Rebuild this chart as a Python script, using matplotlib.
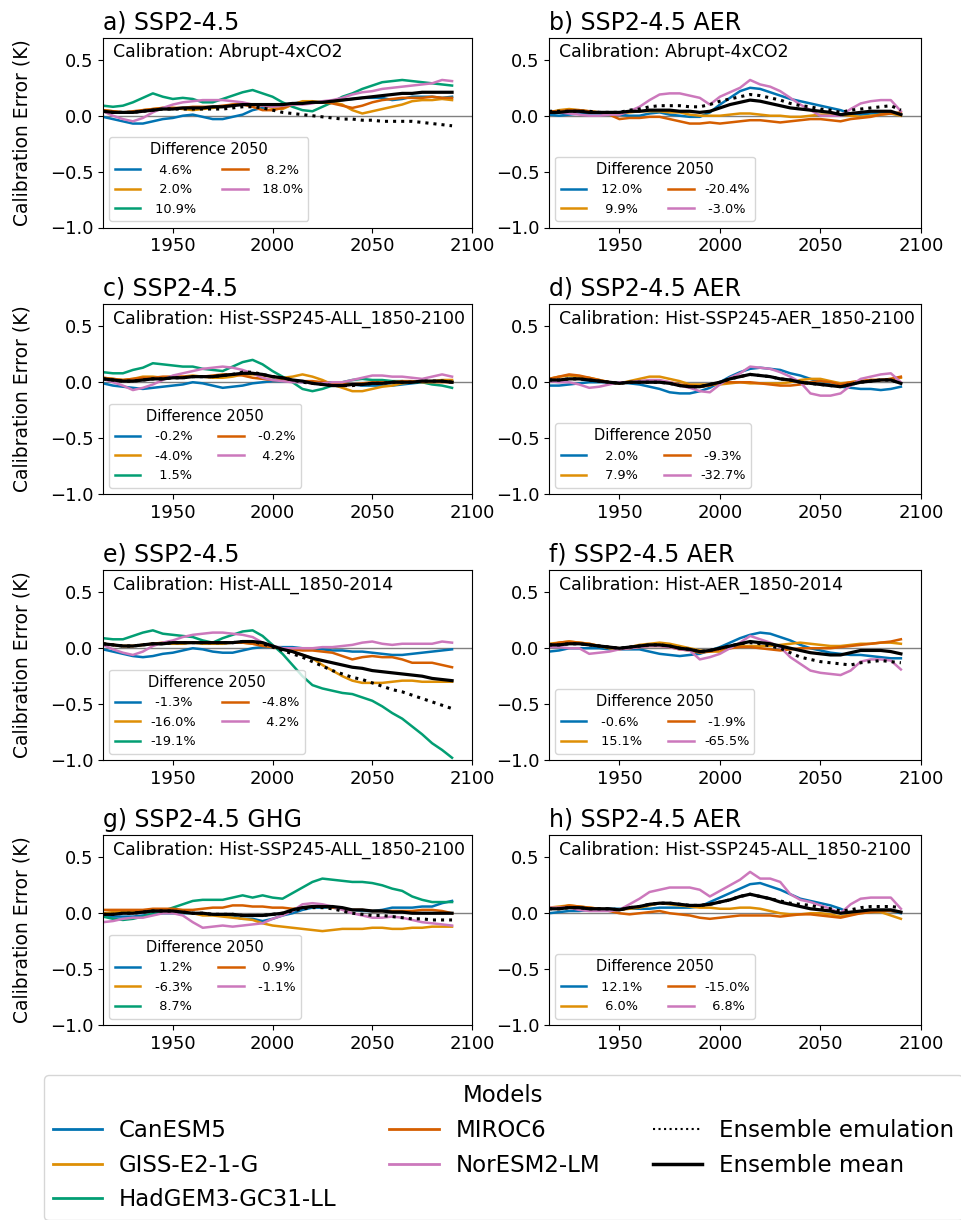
import numpy as np
import matplotlib
matplotlib.use("Agg")
import matplotlib.pyplot as plt
from matplotlib.lines import Line2D

# 5-year sampling of the running-mean calibration error (K)
years = np.arange(1915, 2091, 5)

models = ["CanESM5", "GISS-E2-1-G", "HadGEM3-GC31-LL", "MIROC6", "NorESM2-LM"]
model_colors = ["#0173b2", "#de8f05", "#029e73", "#d55e00", "#cc78bc"]

# ---------------- a) SSP2-4.5, calibration Abrupt-4xCO2 ----------------
a_canesm5 = [-0.01,-0.03,-0.05,-0.07,-0.07,-0.05,-0.03,-0.02,0.0,0.01,-0.01,-0.03,-0.03,-0.01,0.01,0.05,0.07,0.09,0.1,0.11,0.12,0.12,0.12,0.13,0.14,0.15,0.16,0.16,0.16,0.14,0.15,0.17,0.17,0.17,0.16,0.17]
a_giss = [0.05,0.04,0.03,0.03,0.05,0.06,0.07,0.07,0.06,0.05,0.06,0.07,0.08,0.1,0.11,0.1,0.09,0.07,0.06,0.1,0.13,0.13,0.12,0.12,0.1,0.05,0.02,0.04,0.06,0.08,0.1,0.13,0.14,0.14,0.15,0.14]
a_hadgem = [0.09,0.08,0.09,0.12,0.16,0.2,0.17,0.15,0.16,0.15,0.12,0.12,0.15,0.18,0.21,0.23,0.2,0.17,0.12,0.08,0.05,0.04,0.08,0.12,0.17,0.2,0.24,0.27,0.3,0.31,0.32,0.31,0.3,0.29,0.28,0.27]
a_miroc6 = [0.05,0.04,0.03,0.04,0.05,0.06,0.07,0.07,0.07,0.08,0.08,0.08,0.09,0.1,0.1,0.08,0.05,0.05,0.07,0.1,0.11,0.12,0.12,0.11,0.09,0.07,0.09,0.12,0.14,0.15,0.16,0.16,0.16,0.17,0.16,0.16]
a_noresm = [0.04,0.0,-0.03,-0.05,-0.02,0.03,0.07,0.1,0.12,0.13,0.14,0.14,0.14,0.13,0.12,0.1,0.09,0.08,0.09,0.1,0.1,0.11,0.13,0.14,0.16,0.19,0.21,0.22,0.24,0.25,0.26,0.27,0.28,0.29,0.32,0.31]
a_mean = [0.04,0.03,0.03,0.03,0.04,0.05,0.06,0.06,0.07,0.07,0.07,0.08,0.08,0.09,0.1,0.1,0.1,0.1,0.1,0.11,0.11,0.12,0.12,0.13,0.14,0.15,0.16,0.17,0.18,0.19,0.2,0.2,0.21,0.21,0.21,0.21]
a_emul = [0.04,0.03,0.03,0.03,0.04,0.05,0.06,0.06,0.06,0.06,0.06,0.06,0.06,0.07,0.08,0.08,0.07,0.05,0.03,0.02,0.01,0.0,-0.01,-0.02,-0.03,-0.03,-0.04,-0.04,-0.05,-0.05,-0.05,-0.05,-0.06,-0.07,-0.08,-0.09]
a_diff = [4.6, 2.0, 10.9, 8.2, 18.0]

# ---------------- b) SSP2-4.5 AER, calibration Abrupt-4xCO2 ----------------
b_canesm5 = [0.01,0.0,0.01,0.02,0.02,0.02,0.01,0.01,0.0,0.0,0.02,0.03,0.01,0.0,-0.01,-0.01,0.03,0.1,0.16,0.22,0.25,0.24,0.21,0.18,0.15,0.13,0.11,0.09,0.07,0.05,0.02,0.01,0.02,0.02,0.02,0.01]
b_giss = [0.03,0.05,0.06,0.05,0.04,0.03,0.02,0.02,0.03,0.04,0.04,0.04,0.03,0.03,0.01,0.0,0.0,0.0,0.01,0.02,0.02,0.01,0.0,0.0,-0.01,-0.01,0.0,0.01,0.01,0.01,0.0,-0.01,0.0,0.01,0.02,0.0]
b_miroc6 = [0.04,0.04,0.05,0.05,0.04,0.03,0.01,-0.03,-0.02,-0.02,-0.01,-0.01,-0.03,-0.05,-0.07,-0.07,-0.06,-0.07,-0.06,-0.05,-0.04,-0.04,-0.05,-0.06,-0.05,-0.04,-0.03,-0.03,-0.04,-0.05,-0.03,-0.02,-0.01,0.01,0.02,0.03]
b_noresm = [0.03,0.03,0.02,0.01,0.0,0.0,0.01,0.01,0.04,0.08,0.14,0.19,0.2,0.2,0.18,0.16,0.1,0.17,0.21,0.25,0.32,0.28,0.26,0.22,0.16,0.1,0.05,0.0,0.0,0.0,0.06,0.11,0.13,0.14,0.14,0.04]
b_mean = [0.03,0.03,0.04,0.04,0.03,0.03,0.03,0.03,0.04,0.04,0.05,0.05,0.05,0.04,0.04,0.03,0.04,0.07,0.1,0.12,0.14,0.13,0.11,0.09,0.07,0.06,0.05,0.04,0.03,0.01,0.02,0.03,0.04,0.04,0.04,0.01]
b_emul = [0.04,0.04,0.04,0.04,0.04,0.03,0.03,0.03,0.05,0.06,0.08,0.09,0.09,0.09,0.08,0.08,0.1,0.13,0.15,0.17,0.19,0.18,0.16,0.14,0.11,0.09,0.08,0.06,0.05,0.03,0.05,0.06,0.07,0.08,0.09,0.05]
b_diff = [12.0, 9.9, -20.4, -3.0]

# ---------------- c) SSP2-4.5, calibration Hist-SSP245-ALL ----------------
c_canesm5 = [-0.01,-0.03,-0.04,-0.05,-0.06,-0.05,-0.04,-0.03,-0.02,0.0,-0.01,-0.03,-0.05,-0.04,-0.03,-0.01,0.0,0.01,0.01,0.01,0.0,0.0,0.0,0.0,-0.01,-0.02,-0.03,-0.03,-0.03,-0.03,-0.02,-0.01,0.0,0.0,0.01,0.01]
c_giss = [0.04,0.03,0.02,0.03,0.05,0.05,0.04,0.04,0.05,0.06,0.05,0.04,0.04,0.05,0.07,0.07,0.06,0.05,0.04,0.05,0.07,0.05,0.02,-0.02,-0.05,-0.08,-0.08,-0.06,-0.04,-0.03,-0.01,0.0,0.01,0.01,0.02,0.02]
c_hadgem = [0.09,0.08,0.08,0.11,0.13,0.17,0.16,0.15,0.14,0.14,0.12,0.11,0.1,0.14,0.18,0.2,0.16,0.1,0.05,0.0,-0.06,-0.08,-0.06,-0.03,0.0,0.02,0.03,0.02,0.02,0.01,0.01,0.0,0.0,-0.02,-0.03,-0.05]
c_miroc6 = [0.04,0.03,0.02,0.03,0.04,0.04,0.05,0.05,0.05,0.05,0.05,0.06,0.07,0.07,0.06,0.04,0.03,0.02,0.02,0.01,0.01,0.01,0.0,-0.01,-0.01,-0.02,-0.01,0.0,0.0,0.0,0.01,0.01,0.0,0.0,0.0,0.0]
c_noresm = [0.03,0.0,-0.03,-0.07,-0.05,-0.02,0.02,0.06,0.08,0.1,0.12,0.13,0.14,0.13,0.11,0.08,0.04,0.02,0.01,0.0,0.0,-0.01,-0.01,0.0,0.0,0.02,0.04,0.06,0.06,0.05,0.05,0.04,0.03,0.05,0.07,0.05]
c_mean = [0.03,0.02,0.01,0.01,0.02,0.03,0.03,0.04,0.04,0.05,0.05,0.05,0.06,0.07,0.08,0.08,0.07,0.05,0.04,0.02,0.01,-0.01,-0.02,-0.03,-0.03,-0.02,-0.02,-0.01,-0.01,0.0,0.0,0.0,0.01,0.01,0.01,0.0]
c_emul = [0.03,0.02,0.01,0.01,0.02,0.03,0.03,0.04,0.04,0.05,0.05,0.05,0.06,0.07,0.09,0.09,0.07,0.05,0.04,0.02,0.0,-0.01,-0.02,-0.03,-0.03,-0.03,-0.02,-0.01,-0.01,0.0,0.0,0.0,0.01,0.01,0.01,0.0]
c_diff = [-0.2, -4.0, 1.5, -0.2, 4.2]

# ---------------- d) SSP2-4.5 AER, calibration Hist-SSP245-AER ----------------
d_canesm5 = [-0.03,-0.03,-0.02,-0.01,0.0,0.0,0.0,0.0,-0.01,-0.02,-0.04,-0.06,-0.09,-0.1,-0.1,-0.08,-0.05,0.0,0.05,0.09,0.12,0.13,0.12,0.11,0.08,0.06,0.03,0.0,-0.02,-0.04,-0.05,-0.06,-0.06,-0.07,-0.06,-0.04]
d_giss = [0.03,0.05,0.06,0.05,0.04,0.02,0.0,-0.01,0.01,0.03,0.05,0.05,0.03,0.01,-0.02,-0.02,-0.02,-0.02,-0.01,0.0,-0.01,-0.01,-0.01,-0.01,0.0,0.02,0.03,0.03,0.01,-0.01,0.0,0.01,0.02,0.02,0.03,0.04]
d_miroc6 = [0.03,0.05,0.07,0.06,0.04,0.02,0.0,-0.01,0.0,0.01,0.01,0.01,0.0,-0.02,-0.03,-0.04,-0.03,0.0,0.0,0.0,0.0,-0.01,-0.02,-0.03,-0.03,-0.02,0.0,0.01,0.0,-0.02,0.0,0.01,0.02,0.02,0.03,0.05]
d_noresm = [0.01,0.0,0.0,-0.02,-0.05,-0.04,-0.02,0.0,0.0,0.01,0.02,0.02,0.0,-0.03,-0.05,-0.08,-0.09,-0.02,0.04,0.08,0.14,0.13,0.12,0.09,0.05,0.0,-0.1,-0.12,-0.12,-0.1,-0.03,0.03,0.05,0.07,0.08,0.0]
d_mean = [0.02,0.02,0.03,0.03,0.02,0.01,0.0,-0.01,0.0,0.0,0.0,0.0,-0.01,-0.03,-0.04,-0.04,-0.02,0.0,0.03,0.05,0.07,0.06,0.05,0.03,0.02,0.0,-0.01,-0.02,-0.03,-0.04,-0.02,0.0,0.01,0.02,0.02,-0.01]
d_emul = [0.02,0.02,0.03,0.03,0.02,0.01,0.0,-0.01,0.0,0.0,0.0,0.0,-0.01,-0.03,-0.04,-0.04,-0.02,0.0,0.03,0.05,0.07,0.06,0.05,0.03,0.02,0.0,-0.01,-0.02,-0.03,-0.04,-0.02,0.0,0.01,0.02,0.02,-0.01]
d_diff = [2.0, 7.9, -9.3, -32.7]

# ---------------- e) SSP2-4.5, calibration Hist-ALL 1850-2014 ----------------
e_canesm5 = [-0.01,-0.03,-0.05,-0.07,-0.08,-0.07,-0.05,-0.04,-0.02,0.0,-0.01,-0.03,-0.04,-0.04,-0.02,0.0,0.01,0.01,0.01,0.01,0.0,0.0,-0.01,-0.02,-0.02,-0.03,-0.03,-0.04,-0.05,-0.06,-0.06,-0.05,-0.04,-0.03,-0.02,-0.01]
e_giss = [0.04,0.03,0.02,0.02,0.03,0.04,0.04,0.04,0.04,0.05,0.04,0.04,0.04,0.05,0.05,0.04,0.03,0.01,-0.01,-0.03,-0.06,-0.09,-0.15,-0.2,-0.25,-0.29,-0.31,-0.31,-0.31,-0.3,-0.29,-0.29,-0.3,-0.3,-0.3,-0.3]
e_hadgem = [0.09,0.08,0.08,0.11,0.14,0.16,0.13,0.12,0.11,0.1,0.07,0.05,0.09,0.12,0.15,0.16,0.11,0.03,-0.05,-0.15,-0.25,-0.33,-0.36,-0.38,-0.4,-0.41,-0.44,-0.47,-0.52,-0.58,-0.63,-0.7,-0.77,-0.85,-0.91,-0.98]
e_miroc6 = [0.04,0.03,0.02,0.02,0.03,0.04,0.05,0.05,0.05,0.05,0.05,0.05,0.05,0.05,0.05,0.04,0.02,0.01,0.0,-0.01,-0.02,-0.02,-0.03,-0.04,-0.07,-0.1,-0.08,-0.07,-0.08,-0.08,-0.1,-0.13,-0.13,-0.13,-0.15,-0.17]
e_noresm = [0.03,-0.01,-0.04,-0.06,-0.03,0.02,0.05,0.07,0.1,0.12,0.13,0.14,0.14,0.13,0.12,0.1,0.05,0.02,0.0,0.0,0.0,0.0,0.01,0.01,0.02,0.03,0.05,0.06,0.04,0.03,0.04,0.04,0.04,0.04,0.06,0.05]
e_mean = [0.04,0.03,0.02,0.02,0.03,0.04,0.04,0.05,0.05,0.05,0.05,0.05,0.05,0.05,0.06,0.06,0.05,0.02,-0.01,-0.03,-0.06,-0.09,-0.11,-0.13,-0.15,-0.17,-0.18,-0.2,-0.21,-0.22,-0.23,-0.24,-0.25,-0.27,-0.28,-0.29]
e_emul = [0.04,0.03,0.02,0.02,0.03,0.04,0.04,0.05,0.05,0.05,0.05,0.05,0.05,0.05,0.06,0.06,0.04,0.01,-0.02,-0.05,-0.08,-0.12,-0.16,-0.2,-0.23,-0.26,-0.28,-0.31,-0.34,-0.37,-0.39,-0.42,-0.45,-0.48,-0.51,-0.54]
e_diff = [-1.3, -16.0, -19.1, -4.8, 4.2]

# ---------------- f) SSP2-4.5 AER, calibration Hist-AER 1850-2014 ----------------
f_canesm5 = [-0.03,-0.02,0.0,0.0,0.0,0.0,-0.01,-0.01,-0.01,-0.01,-0.03,-0.05,-0.06,-0.07,-0.06,-0.05,-0.02,0.01,0.05,0.09,0.12,0.14,0.13,0.1,0.07,0.03,0.0,-0.02,-0.04,-0.05,-0.06,-0.06,-0.07,-0.08,-0.09,-0.09]
f_giss = [0.04,0.05,0.06,0.05,0.04,0.02,0.0,-0.01,0.01,0.03,0.04,0.05,0.04,0.02,0.0,-0.02,-0.03,-0.03,0.0,0.02,0.02,0.02,0.02,0.03,0.04,0.05,0.04,0.03,0.02,0.02,0.03,0.04,0.04,0.05,0.05,0.04]
f_miroc6 = [0.03,0.05,0.06,0.05,0.04,0.02,0.01,0.0,0.0,0.01,0.02,0.02,0.01,-0.01,-0.02,-0.04,-0.03,-0.01,0.0,0.01,0.01,0.0,-0.01,-0.02,-0.01,0.0,0.0,0.0,0.0,0.01,0.02,0.03,0.04,0.05,0.06,0.08]
f_noresm = [0.01,0.01,0.0,0.0,-0.05,-0.04,-0.03,-0.01,0.0,0.01,0.02,0.02,0.01,-0.01,-0.02,-0.1,-0.08,-0.05,0.0,0.05,0.11,0.08,0.05,0.01,-0.08,-0.14,-0.2,-0.22,-0.23,-0.24,-0.2,-0.12,-0.1,-0.1,-0.11,-0.19]
f_mean = [0.03,0.03,0.04,0.04,0.03,0.02,0.01,0.0,0.01,0.02,0.03,0.03,0.02,0.0,-0.01,-0.03,-0.02,0.0,0.02,0.04,0.06,0.05,0.04,0.02,0.0,-0.02,-0.04,-0.05,-0.06,-0.06,-0.04,-0.02,-0.02,-0.02,-0.03,-0.05]
f_emul = [0.03,0.03,0.04,0.04,0.03,0.02,0.01,0.0,0.01,0.02,0.03,0.03,0.02,0.0,-0.01,-0.03,-0.02,0.0,0.02,0.04,0.05,0.04,0.02,0.0,-0.04,-0.08,-0.1,-0.12,-0.13,-0.14,-0.15,-0.13,-0.12,-0.11,-0.12,-0.13]
f_diff = [-0.6, 15.1, -1.9, -65.5]

# ---------------- g) SSP2-4.5 GHG, calibration Hist-SSP245-ALL ----------------
g_canesm5 = [-0.03,-0.03,-0.03,-0.03,-0.02,-0.01,0.0,0.0,0.0,0.0,-0.01,-0.01,-0.02,-0.03,-0.05,-0.05,-0.07,-0.05,-0.02,0.0,0.03,0.05,0.05,0.05,0.04,0.03,0.02,0.02,0.03,0.05,0.05,0.05,0.06,0.06,0.09,0.11]
g_giss = [0.0,0.01,0.02,0.02,0.02,0.02,0.02,0.02,0.01,0.0,-0.02,-0.02,-0.03,-0.04,-0.05,-0.06,-0.09,-0.11,-0.12,-0.13,-0.14,-0.15,-0.16,-0.15,-0.14,-0.14,-0.14,-0.13,-0.13,-0.14,-0.14,-0.13,-0.13,-0.12,-0.12,-0.12]
g_hadgem = [-0.03,-0.05,-0.06,-0.05,-0.03,0.0,0.02,0.05,0.08,0.11,0.12,0.12,0.12,0.14,0.16,0.14,0.16,0.14,0.13,0.18,0.23,0.28,0.31,0.3,0.29,0.28,0.28,0.27,0.25,0.22,0.2,0.15,0.12,0.1,0.1,0.1]
g_miroc6 = [0.03,0.03,0.03,0.03,0.03,0.04,0.04,0.04,0.03,0.03,0.04,0.05,0.05,0.07,0.07,0.06,0.06,0.05,0.05,0.04,0.05,0.06,0.06,0.05,0.04,0.03,0.03,0.02,0.02,0.02,0.02,0.02,0.03,0.03,0.02,0.0]
g_noresm = [-0.08,-0.07,-0.05,-0.04,-0.04,-0.02,0.0,0.0,-0.02,-0.08,-0.13,-0.12,-0.11,-0.12,-0.11,-0.1,-0.09,-0.05,-0.02,0.02,0.08,0.09,0.08,0.06,0.03,0.0,-0.02,-0.04,-0.04,-0.03,-0.04,-0.06,-0.08,-0.09,-0.1,-0.11]
g_mean = [-0.01,-0.01,0.0,0.0,0.01,0.02,0.02,0.02,0.01,0.0,0.0,-0.01,-0.01,-0.01,-0.02,-0.02,-0.02,-0.01,0.0,0.03,0.05,0.06,0.06,0.06,0.05,0.03,0.03,0.02,0.02,0.01,0.01,0.0,0.0,0.0,0.0,0.0]
g_emul = [-0.01,-0.01,0.0,0.0,0.01,0.02,0.02,0.02,0.01,0.0,0.0,-0.01,-0.01,-0.01,-0.02,-0.02,-0.02,-0.01,0.0,0.02,0.04,0.05,0.05,0.04,0.02,0.0,-0.01,-0.02,-0.02,-0.03,-0.04,-0.05,-0.05,-0.06,-0.06,-0.06]
g_diff = [1.2, -6.3, 8.7, 0.9, -1.1]

# ---------------- h) SSP2-4.5 AER, calibration Hist-SSP245-ALL ----------------
h_canesm5 = [0.0,0.01,0.02,0.02,0.03,0.03,0.04,0.04,0.04,0.04,0.04,0.05,0.05,0.05,0.05,0.06,0.1,0.14,0.18,0.22,0.26,0.27,0.24,0.21,0.17,0.13,0.11,0.09,0.07,0.04,0.0,0.01,0.01,0.02,0.02,0.0]
h_giss = [0.05,0.06,0.07,0.06,0.05,0.04,0.03,0.03,0.04,0.05,0.07,0.09,0.08,0.07,0.06,0.05,0.05,0.04,0.04,0.05,0.05,0.04,0.02,0.0,-0.01,-0.01,0.0,0.0,-0.01,-0.03,-0.01,0.0,0.01,0.01,-0.02,-0.05]
h_miroc6 = [0.04,0.05,0.07,0.06,0.05,0.04,0.02,0.0,-0.01,0.0,0.01,0.02,0.0,-0.01,-0.02,-0.04,-0.05,-0.04,-0.03,-0.02,-0.02,-0.02,-0.02,-0.03,-0.02,-0.01,-0.01,-0.02,-0.03,-0.04,-0.02,0.0,0.01,0.02,0.02,0.01]
h_noresm = [0.05,0.05,0.05,0.03,0.02,0.02,0.02,0.03,0.08,0.13,0.19,0.21,0.23,0.23,0.23,0.21,0.15,0.2,0.25,0.3,0.37,0.31,0.31,0.28,0.17,0.12,0.1,0.07,0.04,0.0,0.08,0.13,0.14,0.14,0.14,0.04]
h_mean = [0.04,0.04,0.05,0.05,0.04,0.04,0.04,0.03,0.05,0.06,0.08,0.09,0.09,0.08,0.07,0.07,0.08,0.1,0.12,0.15,0.17,0.15,0.13,0.1,0.08,0.06,0.04,0.03,0.02,0.0,0.01,0.02,0.03,0.03,0.03,0.01]
h_emul = [0.04,0.04,0.05,0.05,0.04,0.04,0.04,0.03,0.05,0.06,0.08,0.09,0.09,0.08,0.07,0.07,0.08,0.1,0.12,0.15,0.17,0.15,0.13,0.11,0.09,0.08,0.07,0.05,0.04,0.02,0.03,0.05,0.06,0.06,0.06,0.05]
h_diff = [12.1, 6.0, -15.0, 6.8]

panels = [
    ("a", "SSP2-4.5", "Abrupt-4xCO2",
     [a_canesm5, a_giss, a_hadgem, a_miroc6, a_noresm], a_mean, a_emul, a_diff),
    ("b", "SSP2-4.5 AER", "Abrupt-4xCO2",
     [b_canesm5, b_giss, None, b_miroc6, b_noresm], b_mean, b_emul, b_diff),
    ("c", "SSP2-4.5", "Hist-SSP245-ALL_1850-2100",
     [c_canesm5, c_giss, c_hadgem, c_miroc6, c_noresm], c_mean, c_emul, c_diff),
    ("d", "SSP2-4.5 AER", "Hist-SSP245-AER_1850-2100",
     [d_canesm5, d_giss, None, d_miroc6, d_noresm], d_mean, d_emul, d_diff),
    ("e", "SSP2-4.5", "Hist-ALL_1850-2014",
     [e_canesm5, e_giss, e_hadgem, e_miroc6, e_noresm], e_mean, e_emul, e_diff),
    ("f", "SSP2-4.5 AER", "Hist-AER_1850-2014",
     [f_canesm5, f_giss, None, f_miroc6, f_noresm], f_mean, f_emul, f_diff),
    ("g", "SSP2-4.5 GHG", "Hist-SSP245-ALL_1850-2100",
     [g_canesm5, g_giss, g_hadgem, g_miroc6, g_noresm], g_mean, g_emul, g_diff),
    ("h", "SSP2-4.5 AER", "Hist-SSP245-ALL_1850-2100",
     [h_canesm5, h_giss, None, h_miroc6, h_noresm], h_mean, h_emul, h_diff),
]

W, H = 962, 1220
fig = plt.figure(figsize=(W / 100, H / 100), dpi=100)

col_left = [103, 549]
col_width = [369, 372]
row_top = [37.5, 304, 570, 835]
ax_h = 190

for i, (letter, scen, calib, series, mean, emul, diffs) in enumerate(panels):
    r, c = divmod(i, 2)
    rect = [col_left[c] / W, 1 - (row_top[r] + ax_h) / H, col_width[c] / W, ax_h / H]
    ax = fig.add_axes(rect)

    ax.axhline(0, color="grey", lw=1.0, zorder=1)
    handles, labels = [], []
    k = 0
    for name, color, vals in zip(models, model_colors, series):
        if vals is None:
            continue
        assert len(vals) == len(years)
        ln, = ax.plot(years, vals, color=color, lw=1.8, zorder=2)
        handles.append(ln)
        labels.append("%5.1f%%" % diffs[k])
        k += 1
    ax.plot(years, mean, color="black", lw=2.3, zorder=3)
    ax.plot(years, emul, color="black", lw=2.2, ls=":", zorder=4)

    ax.set_xlim(1915, 2100)
    ax.set_ylim(-1.0, 0.7)
    ax.set_xticks([1950, 2000, 2050, 2100])
    ax.set_yticks([-1.0, -0.5, 0.0, 0.5])
    ax.tick_params(labelsize=13)
    ax.set_title(f"{letter}) {scen}", loc="left", fontsize=17, pad=6)
    ax.text(0.027, 0.972, f"Calibration: {calib}", transform=ax.transAxes,
            ha="left", va="top", fontsize=12.5)
    if c == 0:
        ax.set_ylabel("Calibration Error (K)", fontsize=13.5, labelpad=13)
    ax.legend(handles, labels, loc="lower left", ncol=2, title="Difference 2050",
              fontsize=9.3, title_fontsize=10.5)

# Shared model legend
leg_handles = [Line2D([], [], color=col, lw=2) for col in model_colors]
leg_handles += [Line2D([], [], color="black", lw=1.5, ls=":"),
                Line2D([], [], color="black", lw=2.5)]
leg_labels = models + ["Ensemble emulation", "Ensemble mean"]
fig.legend(leg_handles, leg_labels, loc="upper left",
           bbox_to_anchor=(44 / W, 1 - 1075 / H), borderaxespad=0, ncol=3,
           title="Models", fontsize=16.5, title_fontsize=16.5,
           handlelength=2.15, handletextpad=0.74, columnspacing=2.3,
           labelspacing=0.52, borderpad=0.38)

fig.savefig("out.png", dpi=100)
